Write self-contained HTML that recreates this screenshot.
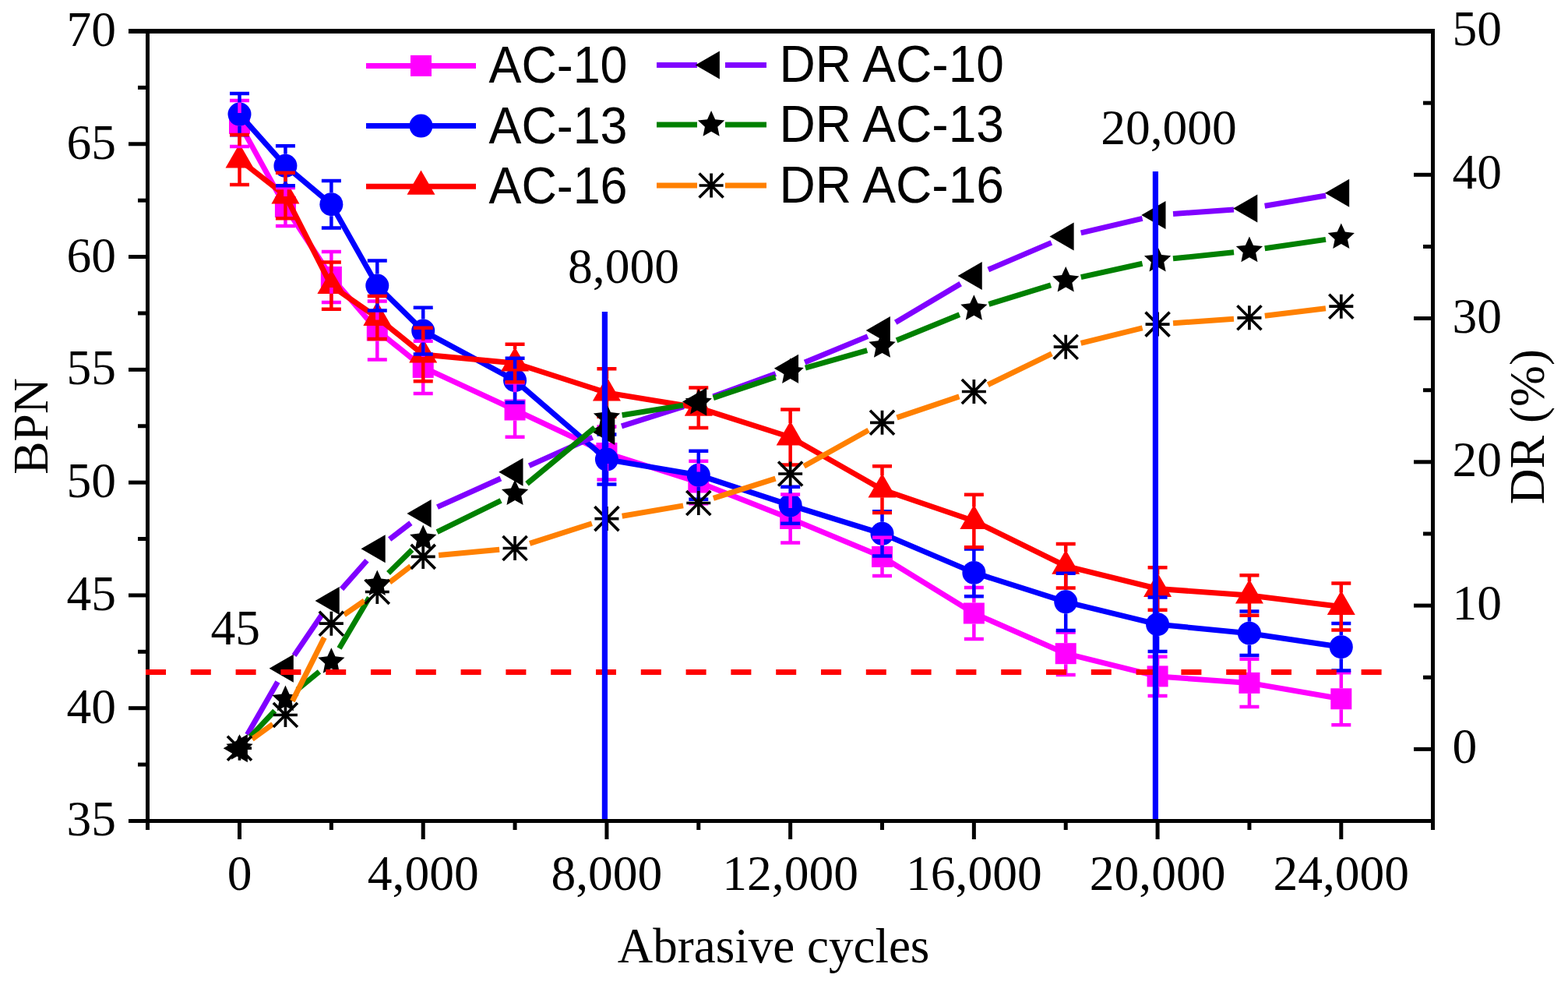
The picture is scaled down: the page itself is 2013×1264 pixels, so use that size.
<!DOCTYPE html>
<html><head><meta charset="utf-8"><title>BPN and DR vs Abrasive cycles</title>
<style>html,body{margin:0;padding:0;background:#fff;overflow:hidden}svg{display:block}</style>
</head><body>
<svg width="2013" height="1264" viewBox="0 0 2013 1264"><polyline points="307.5,158.4 366.43,265.5 425.36,355.5 484.29,424 543.22,471.4 661.07,526 778.93,581.5 896.79,619 1014.65,665.5 1132.51,714.4 1250.36,787 1368.22,838.7 1486.08,867.9 1603.94,876.4 1721.8,896.8" fill="none" stroke="#FF00FF" stroke-width="7" stroke-linejoin="round"/>
<rect x="294" y="144.9" width="27" height="27" fill="#FF00FF"/><rect x="352.93" y="252" width="27" height="27" fill="#FF00FF"/><rect x="411.86" y="342" width="27" height="27" fill="#FF00FF"/><rect x="470.79" y="410.5" width="27" height="27" fill="#FF00FF"/><rect x="529.72" y="457.9" width="27" height="27" fill="#FF00FF"/><rect x="647.57" y="512.5" width="27" height="27" fill="#FF00FF"/><rect x="765.43" y="568" width="27" height="27" fill="#FF00FF"/><rect x="883.29" y="605.5" width="27" height="27" fill="#FF00FF"/><rect x="1001.15" y="652" width="27" height="27" fill="#FF00FF"/><rect x="1119.01" y="700.9" width="27" height="27" fill="#FF00FF"/><rect x="1236.86" y="773.5" width="27" height="27" fill="#FF00FF"/><rect x="1354.72" y="825.2" width="27" height="27" fill="#FF00FF"/><rect x="1472.58" y="854.4" width="27" height="27" fill="#FF00FF"/><rect x="1590.44" y="862.9" width="27" height="27" fill="#FF00FF"/><rect x="1708.3" y="883.3" width="27" height="27" fill="#FF00FF"/>
<polyline points="307.5,146.6 366.43,212.8 425.36,262.2 484.29,366.5 543.22,424.6 661.07,488.2 778.93,589.6 896.79,609.7 1014.65,648.3 1132.51,684.8 1250.36,734.9 1368.22,772.3 1486.08,801.2 1603.94,812.7 1721.8,830.2" fill="none" stroke="#0000FF" stroke-width="7" stroke-linejoin="round"/>
<circle cx="307.5" cy="146.6" r="15" fill="#0000FF"/><circle cx="366.43" cy="212.8" r="15" fill="#0000FF"/><circle cx="425.36" cy="262.2" r="15" fill="#0000FF"/><circle cx="484.29" cy="366.5" r="15" fill="#0000FF"/><circle cx="543.22" cy="424.6" r="15" fill="#0000FF"/><circle cx="661.07" cy="488.2" r="15" fill="#0000FF"/><circle cx="778.93" cy="589.6" r="15" fill="#0000FF"/><circle cx="896.79" cy="609.7" r="15" fill="#0000FF"/><circle cx="1014.65" cy="648.3" r="15" fill="#0000FF"/><circle cx="1132.51" cy="684.8" r="15" fill="#0000FF"/><circle cx="1250.36" cy="734.9" r="15" fill="#0000FF"/><circle cx="1368.22" cy="772.3" r="15" fill="#0000FF"/><circle cx="1486.08" cy="801.2" r="15" fill="#0000FF"/><circle cx="1603.94" cy="812.7" r="15" fill="#0000FF"/><circle cx="1721.8" cy="830.2" r="15" fill="#0000FF"/>
<polyline points="307.5,205 366.43,251 425.36,366.7 484.29,407.5 543.22,455 661.07,466 778.93,504 896.79,523.3 1014.65,561 1132.51,628.2 1250.36,668.5 1368.22,726.3 1486.08,755.5 1603.94,764 1721.8,778.5" fill="none" stroke="#FF0000" stroke-width="7" stroke-linejoin="round"/>
<polygon points="307.5,184.22 325.5,215.39 289.5,215.39" fill="#FF0000"/><polygon points="366.43,230.22 384.43,261.39 348.43,261.39" fill="#FF0000"/><polygon points="425.36,345.92 443.36,377.09 407.36,377.09" fill="#FF0000"/><polygon points="484.29,386.72 502.29,417.89 466.29,417.89" fill="#FF0000"/><polygon points="543.22,434.22 561.22,465.39 525.22,465.39" fill="#FF0000"/><polygon points="661.07,445.22 679.07,476.39 643.07,476.39" fill="#FF0000"/><polygon points="778.93,483.22 796.93,514.39 760.93,514.39" fill="#FF0000"/><polygon points="896.79,502.52 914.79,533.69 878.79,533.69" fill="#FF0000"/><polygon points="1014.65,540.22 1032.65,571.39 996.65,571.39" fill="#FF0000"/><polygon points="1132.51,607.42 1150.51,638.59 1114.51,638.59" fill="#FF0000"/><polygon points="1250.36,647.72 1268.36,678.89 1232.36,678.89" fill="#FF0000"/><polygon points="1368.22,705.52 1386.22,736.69 1350.22,736.69" fill="#FF0000"/><polygon points="1486.08,734.72 1504.08,765.89 1468.08,765.89" fill="#FF0000"/><polygon points="1603.94,743.22 1621.94,774.39 1585.94,774.39" fill="#FF0000"/><polygon points="1721.8,757.72 1739.8,788.89 1703.8,788.89" fill="#FF0000"/>
<path d="M307.5,128.9V144.9M307.5,171.9V187.9M295,128.9H320M295,187.9H320M366.43,241V252M366.43,279V290M353.93,241H378.93M353.93,290H378.93M425.36,323V342M425.36,369V388M412.86,323H437.86M412.86,388H437.86M484.29,386.5V410.5M484.29,437.5V461.5M471.79,386.5H496.79M471.79,461.5H496.79M543.22,437.8V457.9M543.22,484.9V505M530.72,437.8H555.72M530.72,505H555.72M661.07,491.3V512.5M661.07,539.5V560.7M648.57,491.3H673.57M648.57,560.7H673.57M778.93,547.5V568M778.93,595V615.5M766.43,547.5H791.43M766.43,615.5H791.43M896.79,591.7V605.5M896.79,632.5V646.3M884.29,591.7H909.29M884.29,646.3H909.29M1014.65,634.5V652M1014.65,679V696.5M1002.15,634.5H1027.15M1002.15,696.5H1027.15M1132.51,689.8V700.9M1132.51,727.9V739M1120.01,689.8H1145.01M1120.01,739H1145.01M1250.36,754V773.5M1250.36,800.5V820M1237.86,754H1262.86M1237.86,820H1262.86M1368.22,811.5V825.2M1368.22,852.2V865.9M1355.72,811.5H1380.72M1355.72,865.9H1380.72M1486.08,842.7V854.4M1486.08,881.4V893.1M1473.58,842.7H1498.58M1473.58,893.1H1498.58M1603.94,845.8V862.9M1603.94,889.9V907M1591.44,845.8H1616.44M1591.44,907H1616.44M1721.8,863.3V883.3M1721.8,910.3V930.3M1709.3,863.3H1734.3M1709.3,930.3H1734.3" stroke="#FF00FF" stroke-width="4.5" fill="none"/>
<path d="M307.5,119.9V131.6M307.5,161.6V173.3M295,119.9H320M295,173.3H320M366.43,187.3V197.8M366.43,227.8V238.3M353.93,187.3H378.93M353.93,238.3H378.93M425.36,231.9V247.2M425.36,277.2V292.5M412.86,231.9H437.86M412.86,292.5H437.86M484.29,334.5V351.5M484.29,381.5V398.5M471.79,334.5H496.79M471.79,398.5H496.79M543.22,394.8V409.6M543.22,439.6V454.4M530.72,394.8H555.72M530.72,454.4H555.72M661.07,459.8V473.2M661.07,503.2V516.6M648.57,459.8H673.57M648.57,516.6H673.57M778.93,557.6V574.6M778.93,604.6V621.6M766.43,557.6H791.43M766.43,621.6H791.43M896.79,578.7V594.7M896.79,624.7V640.7M884.29,578.7H909.29M884.29,640.7H909.29M1014.65,624.8V633.3M1014.65,663.3V671.8M1002.15,624.8H1027.15M1002.15,671.8H1027.15M1132.51,656.2V669.8M1132.51,699.8V713.4M1120.01,656.2H1145.01M1120.01,713.4H1145.01M1250.36,704.5V719.9M1250.36,749.9V765.3M1237.86,704.5H1262.86M1237.86,765.3H1262.86M1368.22,735.7V757.3M1368.22,787.3V808.9M1355.72,735.7H1380.72M1355.72,808.9H1380.72M1486.08,766.4V786.2M1486.08,816.2V836M1473.58,766.4H1498.58M1473.58,836H1498.58M1603.94,784.4V797.7M1603.94,827.7V841M1591.44,784.4H1616.44M1591.44,841H1616.44M1721.8,799.9V815.2M1721.8,845.2V860.5M1709.3,799.9H1734.3M1709.3,860.5H1734.3" stroke="#0000FF" stroke-width="4.5" fill="none"/>
<path d="M307.5,173V187M307.5,215V237M295,173H320M295,237H320M366.43,221.7V233M366.43,261V280.3M353.93,221.7H378.93M353.93,280.3H378.93M425.36,336.6V348.7M425.36,376.7V396.8M412.86,336.6H437.86M412.86,396.8H437.86M484.29,380V389.5M484.29,417.5V435M471.79,380H496.79M471.79,435H496.79M543.22,420.8V437M543.22,465V489.2M530.72,420.8H555.72M530.72,489.2H555.72M661.07,441.8V448M661.07,476V490.2M648.57,441.8H673.57M648.57,490.2H673.57M778.93,473.3V486M778.93,514V534.7M766.43,473.3H791.43M766.43,534.7H791.43M896.79,497.5V505.3M896.79,533.3V549.1M884.29,497.5H909.29M884.29,549.1H909.29M1014.65,525.4V543M1014.65,571V596.6M1002.15,525.4H1027.15M1002.15,596.6H1027.15M1132.51,598.3V610.2M1132.51,638.2V658.1M1120.01,598.3H1145.01M1120.01,658.1H1145.01M1250.36,634.8V650.5M1250.36,678.5V702.2M1237.86,634.8H1262.86M1237.86,702.2H1262.86M1368.22,698.1V708.3M1368.22,736.3V754.5M1355.72,698.1H1380.72M1355.72,754.5H1380.72M1486.08,728.3V737.5M1486.08,765.5V782.7M1473.58,728.3H1498.58M1473.58,782.7H1498.58M1603.94,738.3V746M1603.94,774V789.7M1591.44,738.3H1616.44M1591.44,789.7H1616.44M1721.8,748.5V760.5M1721.8,788.5V808.5M1709.3,748.5H1734.3M1709.3,808.5H1734.3" stroke="#FF0000" stroke-width="4.5" fill="none"/>
<path d="M317.47,942.86L356.46,875.04M377.66,841.15L414.12,787.45M438.61,755.92L471.03,719.28M500.13,692.09L527.37,671.11M561.45,650.68L642.84,614.02M679.33,597.62L760.68,561.18M797.99,546.94L877.73,521.56M915.59,508.67L995.85,479.53M1033.13,465.06L1114.02,431.64M1149.7,413.78L1233.17,364.12M1268.75,346.04L1349.83,311.36M1387.7,298.94L1466.61,280.46M1506.03,274.5L1583.99,269M1623.66,264.27L1702.08,251.03" stroke="#8000FF" stroke-width="7" fill="none"/>
<polygon points="286.72,960.2 317.89,942.2 317.89,978.2" fill="#000"/><polygon points="345.64,857.7 376.82,839.7 376.82,875.7" fill="#000"/><polygon points="404.57,770.9 435.75,752.9 435.75,788.9" fill="#000"/><polygon points="463.5,704.3 494.68,686.3 494.68,722.3" fill="#000"/><polygon points="522.43,658.9 553.61,640.9 553.61,676.9" fill="#000"/><polygon points="640.29,605.8 671.47,587.8 671.47,623.8" fill="#000"/><polygon points="758.15,553 789.32,535 789.32,571" fill="#000"/><polygon points="876.01,515.5 907.18,497.5 907.18,533.5" fill="#000"/><polygon points="993.86,472.7 1025.04,454.7 1025.04,490.7" fill="#000"/><polygon points="1111.72,424 1142.9,406 1142.9,442" fill="#000"/><polygon points="1229.58,353.9 1260.76,335.9 1260.76,371.9" fill="#000"/><polygon points="1347.44,303.5 1378.61,285.5 1378.61,321.5" fill="#000"/><polygon points="1465.3,275.9 1496.47,257.9 1496.47,293.9" fill="#000"/><polygon points="1583.15,267.6 1614.33,249.6 1614.33,285.6" fill="#000"/><polygon points="1701.01,247.7 1732.19,229.7 1732.19,265.7" fill="#000"/>
<path d="M321.21,945.64L352.72,912.16M381.88,884.91L409.9,861.89M435.53,831.98L474.11,766.72M498.54,735.47L528.96,705.53M561.16,682.67L643.13,642.33M676.48,620.75L763.52,548.75M798.67,532.8L877.05,520.1M915.76,510.56L995.68,483.84M1033.9,472.08L1113.26,449.72M1151.02,436.74L1231.85,403.76M1269.48,390.33L1349.1,365.87M1387.75,355.68L1466.55,338.22M1505.97,331.82L1584.05,323.68M1623.73,318.73L1702,307.37" stroke="#008000" stroke-width="7" fill="none"/>
<polygon points="307.5,942.2 312.55,953.24 324.62,954.64 315.68,962.86 318.08,974.76 307.5,968.8 296.92,974.76 299.32,962.86 290.38,954.64 302.45,953.24" fill="#000"/><polygon points="366.43,879.6 371.48,890.64 383.55,892.04 374.61,900.26 377.01,912.16 366.43,906.2 355.85,912.16 358.25,900.26 349.31,892.04 361.37,890.64" fill="#000"/><polygon points="425.36,831.2 430.41,842.24 442.48,843.64 433.54,851.86 435.94,863.76 425.36,857.8 414.78,863.76 417.18,851.86 408.24,843.64 420.3,842.24" fill="#000"/><polygon points="484.29,731.5 489.34,742.54 501.41,743.94 492.47,752.16 494.87,764.06 484.29,758.1 473.71,764.06 476.11,752.16 467.17,743.94 479.23,742.54" fill="#000"/><polygon points="543.22,673.5 548.27,684.54 560.34,685.94 551.4,694.16 553.8,706.06 543.22,700.1 532.64,706.06 535.04,694.16 526.1,685.94 538.16,684.54" fill="#000"/><polygon points="661.07,615.5 666.13,626.54 678.19,627.94 669.25,636.16 671.65,648.06 661.07,642.1 650.49,648.06 652.89,636.16 643.95,627.94 656.02,626.54" fill="#000"/><polygon points="778.93,518 783.99,529.04 796.05,530.44 787.11,538.66 789.51,550.56 778.93,544.6 768.35,550.56 770.75,538.66 761.81,530.44 773.88,529.04" fill="#000"/><polygon points="896.79,498.9 901.84,509.94 913.91,511.34 904.97,519.56 907.37,531.46 896.79,525.5 886.21,531.46 888.61,519.56 879.67,511.34 891.74,509.94" fill="#000"/><polygon points="1014.65,459.5 1019.7,470.54 1031.77,471.94 1022.83,480.16 1025.23,492.06 1014.65,486.1 1004.07,492.06 1006.47,480.16 997.53,471.94 1009.59,470.54" fill="#000"/><polygon points="1132.51,426.3 1137.56,437.34 1149.63,438.74 1140.69,446.96 1143.09,458.86 1132.51,452.9 1121.93,458.86 1124.33,446.96 1115.39,438.74 1127.45,437.34" fill="#000"/><polygon points="1250.36,378.2 1255.42,389.24 1267.48,390.64 1258.54,398.86 1260.94,410.76 1250.36,404.8 1239.78,410.76 1242.18,398.86 1233.24,390.64 1245.31,389.24" fill="#000"/><polygon points="1368.22,342 1373.28,353.04 1385.34,354.44 1376.4,362.66 1378.8,374.56 1368.22,368.6 1357.64,374.56 1360.04,362.66 1351.1,354.44 1363.17,353.04" fill="#000"/><polygon points="1486.08,315.9 1491.13,326.94 1503.2,328.34 1494.26,336.56 1496.66,348.46 1486.08,342.5 1475.5,348.46 1477.9,336.56 1468.96,328.34 1481.03,326.94" fill="#000"/><polygon points="1603.94,303.6 1608.99,314.64 1621.06,316.04 1612.12,324.26 1614.52,336.16 1603.94,330.2 1593.36,336.16 1595.76,324.26 1586.82,316.04 1598.88,314.64" fill="#000"/><polygon points="1721.8,286.5 1726.85,297.54 1738.92,298.94 1729.98,307.16 1732.38,319.06 1721.8,313.1 1711.22,319.06 1713.62,307.16 1704.68,298.94 1716.74,297.54" fill="#000"/>
<path d="M323.7,948.46L350.23,929.24M375.41,899.63L416.38,818.07M441.81,788.83L467.83,770.87M500.17,747.34L527.33,726.56M563.13,712.56L641.16,705.34M680.11,697.38L759.89,671.72M798.65,662.24L877.07,648.86M915.85,639.44L995.59,614.06M1032.12,598.26L1115.04,552.04M1151.45,535.9L1231.42,508.9M1268.35,493.76L1350.24,453.94M1387.64,440.41L1466.66,420.89M1506.03,414.7L1583.99,409.2M1623.79,405.34L1701.95,395.66" stroke="#FF8000" stroke-width="7" fill="none"/>
<path d="M292,960.2H323M307.5,944.7V975.7M292,944.7L323,975.7M292,975.7L323,944.7" stroke="#000" stroke-width="3.7" fill="none"/><path d="M350.93,917.5H381.93M366.43,902V933M350.93,902L381.93,933M350.93,933L381.93,902" stroke="#000" stroke-width="3.7" fill="none"/><path d="M409.86,800.2H440.86M425.36,784.7V815.7M409.86,784.7L440.86,815.7M409.86,815.7L440.86,784.7" stroke="#000" stroke-width="3.7" fill="none"/><path d="M468.79,759.5H499.79M484.29,744V775M468.79,744L499.79,775M468.79,775L499.79,744" stroke="#000" stroke-width="3.7" fill="none"/><path d="M527.72,714.4H558.72M543.22,698.9V729.9M527.72,698.9L558.72,729.9M527.72,729.9L558.72,698.9" stroke="#000" stroke-width="3.7" fill="none"/><path d="M645.57,703.5H676.57M661.07,688V719M645.57,688L676.57,719M645.57,719L676.57,688" stroke="#000" stroke-width="3.7" fill="none"/><path d="M763.43,665.6H794.43M778.93,650.1V681.1M763.43,650.1L794.43,681.1M763.43,681.1L794.43,650.1" stroke="#000" stroke-width="3.7" fill="none"/><path d="M881.29,645.5H912.29M896.79,630V661M881.29,630L912.29,661M881.29,661L912.29,630" stroke="#000" stroke-width="3.7" fill="none"/><path d="M999.15,608H1030.15M1014.65,592.5V623.5M999.15,592.5L1030.15,623.5M999.15,623.5L1030.15,592.5" stroke="#000" stroke-width="3.7" fill="none"/><path d="M1117.01,542.3H1148.01M1132.51,526.8V557.8M1117.01,526.8L1148.01,557.8M1117.01,557.8L1148.01,526.8" stroke="#000" stroke-width="3.7" fill="none"/><path d="M1234.86,502.5H1265.86M1250.36,487V518M1234.86,487L1265.86,518M1234.86,518L1265.86,487" stroke="#000" stroke-width="3.7" fill="none"/><path d="M1352.72,445.2H1383.72M1368.22,429.7V460.7M1352.72,429.7L1383.72,460.7M1352.72,460.7L1383.72,429.7" stroke="#000" stroke-width="3.7" fill="none"/><path d="M1470.58,416.1H1501.58M1486.08,400.6V431.6M1470.58,400.6L1501.58,431.6M1470.58,431.6L1501.58,400.6" stroke="#000" stroke-width="3.7" fill="none"/><path d="M1588.44,407.8H1619.44M1603.94,392.3V423.3M1588.44,392.3L1619.44,423.3M1588.44,423.3L1619.44,392.3" stroke="#000" stroke-width="3.7" fill="none"/><path d="M1706.3,393.2H1737.3M1721.8,377.7V408.7M1706.3,377.7L1737.3,408.7M1706.3,408.7L1737.3,377.7" stroke="#000" stroke-width="3.7" fill="none"/>
<rect x="165" y="37" width="1677" height="6" fill="#000"/><rect x="187" y="37" width="5" height="1028" fill="#000"/><rect x="1837" y="37" width="5" height="1028" fill="#000"/><rect x="165" y="1051" width="1677" height="5" fill="#000"/><rect x="165" y="906.21" width="24" height="5" fill="#000"/><rect x="165" y="761.43" width="24" height="5" fill="#000"/><rect x="165" y="616.64" width="24" height="5" fill="#000"/><rect x="165" y="471.86" width="24" height="5" fill="#000"/><rect x="165" y="327.07" width="24" height="5" fill="#000"/><rect x="165" y="182.28" width="24" height="5" fill="#000"/><rect x="177" y="978.6" width="12" height="5" fill="#000"/><rect x="177" y="833.82" width="12" height="5" fill="#000"/><rect x="177" y="689.03" width="12" height="5" fill="#000"/><rect x="177" y="544.25" width="12" height="5" fill="#000"/><rect x="177" y="399.46" width="12" height="5" fill="#000"/><rect x="177" y="254.68" width="12" height="5" fill="#000"/><rect x="177" y="109.89" width="12" height="5" fill="#000"/><rect x="1815" y="958.87" width="24" height="5" fill="#000"/><rect x="1815" y="774.6" width="24" height="5" fill="#000"/><rect x="1815" y="590.33" width="24" height="5" fill="#000"/><rect x="1815" y="406.06" width="24" height="5" fill="#000"/><rect x="1815" y="221.78" width="24" height="5" fill="#000"/><rect x="1827" y="866.73" width="12" height="5" fill="#000"/><rect x="1827" y="682.46" width="12" height="5" fill="#000"/><rect x="1827" y="498.19" width="12" height="5" fill="#000"/><rect x="1827" y="313.92" width="12" height="5" fill="#000"/><rect x="1827" y="129.65" width="12" height="5" fill="#000"/><rect x="305" y="1053" width="5" height="24" fill="#000"/><rect x="540.72" y="1053" width="5" height="24" fill="#000"/><rect x="776.43" y="1053" width="5" height="24" fill="#000"/><rect x="1012.15" y="1053" width="5" height="24" fill="#000"/><rect x="1247.86" y="1053" width="5" height="24" fill="#000"/><rect x="1483.58" y="1053" width="5" height="24" fill="#000"/><rect x="1719.3" y="1053" width="5" height="24" fill="#000"/><rect x="422.86" y="1053" width="5" height="12" fill="#000"/><rect x="658.57" y="1053" width="5" height="12" fill="#000"/><rect x="894.29" y="1053" width="5" height="12" fill="#000"/><rect x="1130.01" y="1053" width="5" height="12" fill="#000"/><rect x="1365.72" y="1053" width="5" height="12" fill="#000"/><rect x="1601.44" y="1053" width="5" height="12" fill="#000"/>
<line x1="187" y1="862.5" x2="1774" y2="862.5" stroke="#FF0000" stroke-width="7" stroke-dasharray="26 31.8"/>
<line x1="776.4" y1="400" x2="776.4" y2="1051" stroke="#0000FF" stroke-width="7.2"/>
<line x1="1483.4" y1="220" x2="1483.4" y2="1051" stroke="#0000FF" stroke-width="7.2"/>
<g font-family="Liberation Serif, Times New Roman, serif" font-size="63.5" fill="#000"><text x="149" y="1072.49" text-anchor="end">35</text><text x="149" y="927.71" text-anchor="end">40</text><text x="149" y="782.93" text-anchor="end">45</text><text x="149" y="638.14" text-anchor="end">50</text><text x="149" y="493.36" text-anchor="end">55</text><text x="149" y="348.57" text-anchor="end">60</text><text x="149" y="203.78" text-anchor="end">65</text><text x="149" y="59" text-anchor="end">70</text><text x="1864.5" y="979.37">0</text><text x="1864.5" y="795.1">10</text><text x="1864.5" y="610.83">20</text><text x="1864.5" y="426.56">30</text><text x="1864.5" y="242.28">40</text><text x="1864.5" y="58.01">50</text><text x="307.5" y="1142" text-anchor="middle">0</text><text x="543.22" y="1142" text-anchor="middle">4,000</text><text x="778.93" y="1142" text-anchor="middle">8,000</text><text x="1014.65" y="1142" text-anchor="middle">12,000</text><text x="1250.36" y="1142" text-anchor="middle">16,000</text><text x="1486.08" y="1142" text-anchor="middle">20,000</text><text x="1721.8" y="1142" text-anchor="middle">24,000</text><text x="993.1" y="1235" text-anchor="middle" font-size="63">Abrasive cycles</text><text transform="translate(61,547) rotate(-90)" text-anchor="middle">BPN</text><text transform="translate(1982,547.5) rotate(-90)" text-anchor="middle">DR (%)</text><text x="800.5" y="363" text-anchor="middle">8,000</text><text x="1500.5" y="185" text-anchor="middle">20,000</text><text x="302.3" y="827" text-anchor="middle">45</text></g>
<line x1="470" y1="84.4" x2="611" y2="84.4" stroke="#FF00FF" stroke-width="7"/><rect x="527" y="70.9" width="27" height="27" fill="#FF00FF"/><line x1="470" y1="161.6" x2="611" y2="161.6" stroke="#0000FF" stroke-width="7"/><circle cx="540.5" cy="161.6" r="15" fill="#0000FF"/><line x1="470" y1="239.3" x2="611" y2="239.3" stroke="#FF0000" stroke-width="7"/><polygon points="540.5,218.52 558.5,249.69 522.5,249.69" fill="#FF0000"/><line x1="843" y1="83.4" x2="895" y2="83.4" stroke="#8000FF" stroke-width="7"/><line x1="931" y1="83.4" x2="984" y2="83.4" stroke="#8000FF" stroke-width="7"/><polygon points="892.72,83.4 923.89,65.4 923.89,101.4" fill="#000"/><line x1="843" y1="160.1" x2="895" y2="160.1" stroke="#008000" stroke-width="7"/><line x1="931" y1="160.1" x2="984" y2="160.1" stroke="#008000" stroke-width="7"/><polygon points="913.1,142.1 918.15,153.14 930.22,154.54 921.28,162.76 923.68,174.66 913.1,168.7 902.52,174.66 904.92,162.76 895.98,154.54 908.05,153.14" fill="#000"/><line x1="843" y1="238" x2="895" y2="238" stroke="#FF8000" stroke-width="7"/><line x1="931" y1="238" x2="984" y2="238" stroke="#FF8000" stroke-width="7"/><path d="M897.6,238H928.6M913.1,222.5V253.5M897.6,222.5L928.6,253.5M897.6,253.5L928.6,222.5" stroke="#000" stroke-width="3.7" fill="none"/>
<g font-family="Liberation Sans, Arial, sans-serif" font-size="66" fill="#000"><text transform="translate(627.5,105.9) scale(0.952,1)">AC-10</text><text transform="translate(627.5,183.5) scale(0.952,1)">AC-13</text><text transform="translate(627.5,260.7) scale(0.952,1)">AC-16</text><text transform="translate(1000.5,104.8) scale(0.971,1)">DR AC-10</text><text transform="translate(1000.5,182) scale(0.971,1)">DR AC-13</text><text transform="translate(1000.5,259.5) scale(0.971,1)">DR AC-16</text></g></svg>
</body></html>
